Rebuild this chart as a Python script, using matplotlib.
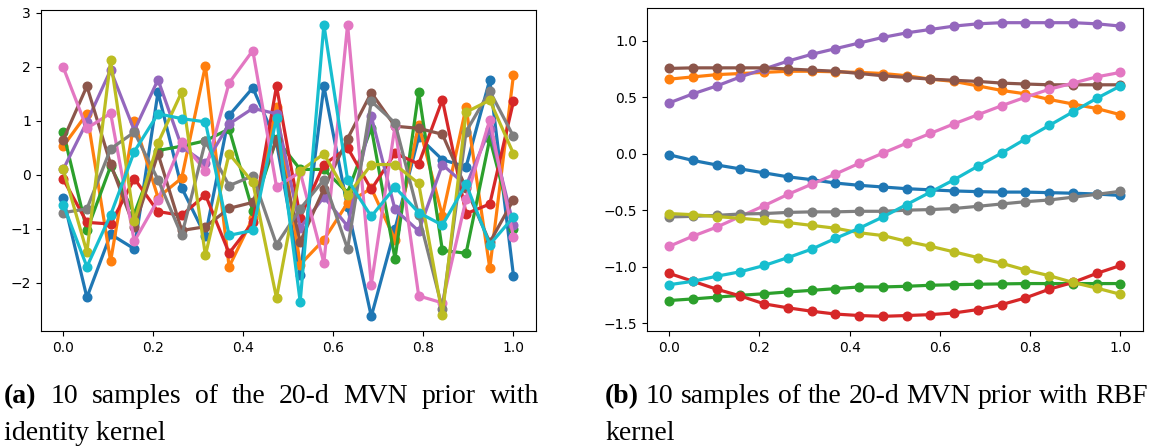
import numpy as np
import matplotlib
matplotlib.use("Agg")
from matplotlib import pyplot as plt

x = np.linspace(0, 1, 20)

# left panel: identity kernel samples
id_blue = [-0.43, -2.27, -1.1, -1.37, 1.53, -0.24, -1.13, 1.1, 1.61, 0.6, -1.85, 1.64, -0.6, -2.62, -1.0, 0.7, 0.28, 0.15, 1.76, -1.87]
id_orange = [0.53, 1.13, -1.6, 0.99, -0.42, -0.06, 2.02, -1.7, -0.8, 1.25, -1.66, -1.2, -0.52, -0.25, -1.2, 0.93, -0.76, 1.25, -1.73, 1.85]
id_green = [0.79, -1.03, 0.16, -0.72, 0.45, 0.53, 0.63, 0.85, -0.67, 0.66, 0.1, 0.1, -0.33, 0.87, -1.55, 1.53, -1.4, -1.45, 0.67, -1.01]
id_red = [-0.08, -0.88, -0.91, -0.07, -0.68, -0.75, -0.37, -1.45, -0.88, 1.64, -0.79, 0.19, 0.5, -0.27, 0.4, 0.2, 1.39, -0.72, -0.54, 1.36]
id_purple = [0.1, 0.98, 1.94, 0.82, 1.76, 0.52, 0.21, 0.94, 1.23, 1.13, -0.98, -0.41, -0.95, 1.08, -0.64, -1.04, 0.19, -0.2, 0.85, -0.93]
id_brown = [0.65, 1.64, 0.2, -0.97, 0.39, -1.03, -0.96, -0.62, -0.51, 0.65, -1.24, -0.26, 0.67, 1.52, 0.9, 0.86, 0.75, -0.25, -1.25, -0.46]
id_pink = [1.99, 0.86, 1.14, -1.23, -0.46, 0.6, 0.08, 1.70, 2.30, -0.22, 0.05, -1.63, 2.78, -2.03, 0.9, -2.24, -2.37, -0.45, 1.02, -1.15]
id_gray = [-0.7, -0.63, 0.48, 0.79, -0.09, -1.12, 0.62, -0.2, -0.02, -1.29, -0.63, -0.09, -1.37, 1.36, 0.96, -0.75, -2.48, 0.8, 1.55, 0.71]
id_olive = [0.1, -1.43, 2.12, -0.86, 0.59, 1.53, -1.49, 0.39, -0.14, -2.28, 0.07, 0.39, -0.38, 0.19, 0.19, -0.16, -2.59, 1.16, 1.38, 0.39]
id_cyan = [-0.55, -1.70, -0.74, 0.43, 1.13, 1.04, 0.98, -1.12, -1.03, 1.06, -2.35, 2.78, -0.09, -0.77, -0.23, -0.70, -0.93, -0.17, -1.29, -0.78]

# right panel: RBF kernel samples
rbf_blue = [-0.01, -0.06, -0.1, -0.135, -0.17, -0.205, -0.23, -0.26, -0.28, -0.295, -0.31, -0.32, -0.33, -0.336, -0.34, -0.34, -0.345, -0.35, -0.357, -0.37]
rbf_orange = [0.66, 0.68, 0.70, 0.71, 0.72, 0.73, 0.73, 0.725, 0.72, 0.71, 0.69, 0.66, 0.64, 0.6, 0.56, 0.53, 0.48, 0.44, 0.40, 0.345]
rbf_green = [-1.30, -1.286, -1.27, -1.254, -1.24, -1.224, -1.21, -1.195, -1.18, -1.18, -1.174, -1.165, -1.16, -1.156, -1.153, -1.15, -1.15, -1.15, -1.15, -1.15]
rbf_red = [-1.06, -1.13, -1.20, -1.26, -1.33, -1.365, -1.395, -1.42, -1.433, -1.44, -1.433, -1.425, -1.41, -1.38, -1.336, -1.277, -1.2, -1.14, -1.06, -0.99]
rbf_purple = [0.45, 0.53, 0.60, 0.68, 0.75, 0.82, 0.88, 0.93, 0.98, 1.03, 1.07, 1.10, 1.13, 1.15, 1.16, 1.16, 1.16, 1.16, 1.15, 1.13]
rbf_brown = [0.755, 0.76, 0.76, 0.76, 0.76, 0.75, 0.74, 0.73, 0.71, 0.69, 0.675, 0.66, 0.65, 0.64, 0.625, 0.617, 0.61, 0.61, 0.61, 0.61]
rbf_pink = [-0.82, -0.73, -0.65, -0.555, -0.46, -0.36, -0.27, -0.18, -0.085, 0.005, 0.094, 0.18, 0.265, 0.345, 0.425, 0.50, 0.57, 0.625, 0.68, 0.72]
rbf_gray = [-0.56, -0.555, -0.546, -0.534, -0.53, -0.52, -0.515, -0.515, -0.51, -0.51, -0.50, -0.495, -0.485, -0.466, -0.445, -0.425, -0.41, -0.385, -0.36, -0.333]
rbf_olive = [-0.53, -0.54, -0.557, -0.572, -0.59, -0.61, -0.635, -0.66, -0.70, -0.725, -0.776, -0.82, -0.87, -0.92, -0.97, -1.03, -1.08, -1.14, -1.19, -1.245]
rbf_cyan = [-1.16, -1.13, -1.085, -1.045, -0.99, -0.92, -0.845, -0.75, -0.66, -0.56, -0.45, -0.34, -0.23, -0.11, 0.006, 0.13, 0.25, 0.37, 0.49, 0.60]

identity_samples = [id_blue, id_orange, id_green, id_red, id_purple,
                    id_brown, id_pink, id_gray, id_olive, id_cyan]
rbf_samples = [rbf_blue, rbf_orange, rbf_green, rbf_red, rbf_purple,
               rbf_brown, rbf_pink, rbf_gray, rbf_olive, rbf_cyan]

caption_a = ["(a)", "10 samples of the 20-d MVN prior with", "identity kernel"]
caption_b = ["(b)", "10 samples of the 20-d MVN prior with RBF", "kernel"]

W, H = 1149, 446
fig = plt.figure(figsize=(W / 100, H / 100), dpi=100)
ax1 = fig.add_axes([40.7 / W, 1 - 331 / H, (536 - 40.7) / W, 321 / H])
ax2 = fig.add_axes([646.7 / W, 1 - 331 / H, (1143 - 646.7) / W, 323 / H])

for s in identity_samples:
    ax1.plot(x, s, '-o', lw=2.3, ms=6.2)
for s in rbf_samples:
    ax2.plot(x, s, '-o', lw=2.3, ms=6.2)

ax2.set_yticks([-1.5, -1.0, -0.5, 0.0, 0.5, 1.0])

# captions under each panel, first line justified between x0 and x1
cap_font = dict(family='Liberation Serif', size=20)
renderer = fig.canvas.get_renderer()

def caption(parts, x0, x1, y1, y2):
    words = [parts[0]] + parts[1].split()
    texts = [fig.text(0, 0, w, va='baseline',
                      fontweight='bold' if i == 0 else 'normal', **cap_font)
             for i, w in enumerate(words)]
    widths = [t.get_window_extent(renderer).width for t in texts]
    gap = (x1 - x0 - sum(widths)) / (len(words) - 1)
    pos = x0
    for t, w in zip(texts, widths):
        t.set_position((pos / W, 1 - y1 / H))
        pos += w + gap
    fig.text(x0 / W, 1 - y2 / H, parts[2], va='baseline', **cap_font)

caption(caption_a, 4, 539, 403, 440)
caption(caption_b, 605, 1148, 403, 440)

fig.savefig('out.png', dpi=100)
